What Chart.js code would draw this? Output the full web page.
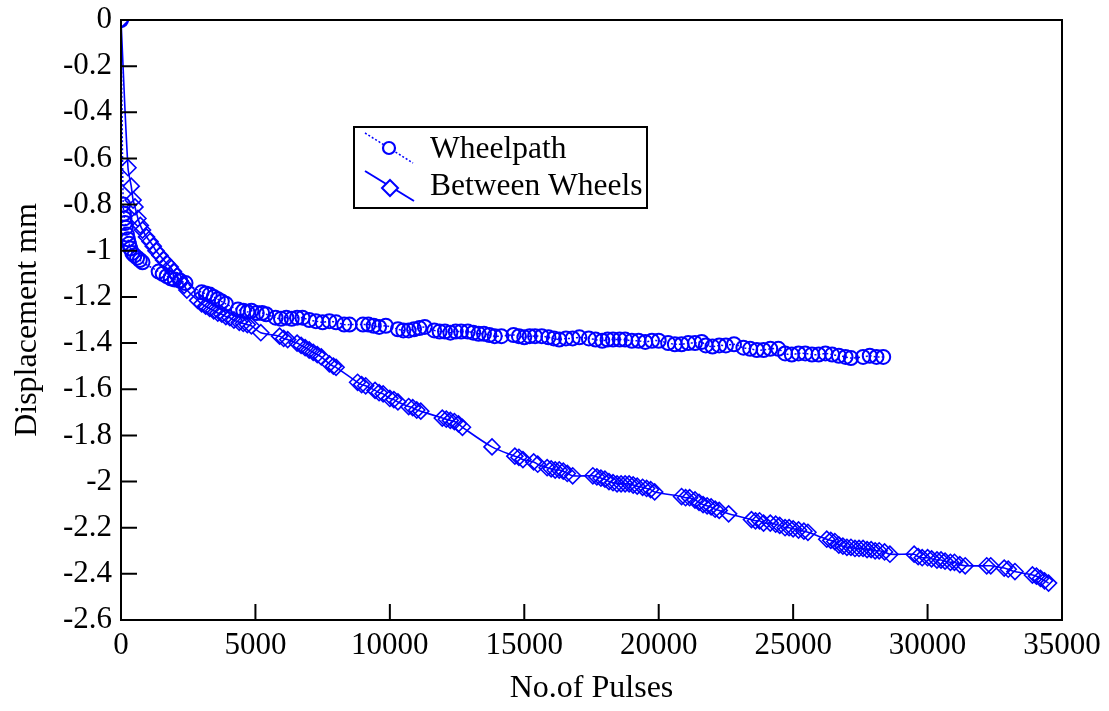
<!DOCTYPE html>
<html>
<head>
<meta charset="utf-8">
<script src="https://cdn.jsdelivr.net/npm/chart.js@4"></script>
<style>
  html, body { margin: 0; padding: 0; background: #fff; }
  #wrap { width: 1109px; height: 711px; }
</style>
</head>
<body>
<div id="wrap"><canvas id="dispChart" width="1109" height="711"></canvas></div>
<script>
// Wheelpath readings (pulses, displacement mm)
const wheelX = [0,
  80, 110, 130, 150, 180, 220, 260, 300, 350, 420, 500, 600, 700, 800,
  1400, 1550, 1700, 1850, 2000, 2200, 2400,
  3000, 3150, 3300, 3450, 3600, 3750, 3900,
  4350, 4550, 4700, 4850, 5050, 5250, 5400,
  5750, 5950, 6150, 6350, 6550, 6750,
  7000, 7250, 7500, 7750, 8000, 8300, 8500,
  9000, 9200, 9400, 9600, 9850,
  10300, 10500, 10700, 10900, 11100, 11300,
  11650, 11850, 12050, 12250, 12450, 12650, 12900,
  13100, 13300, 13500, 13700, 13900, 14150,
  14600, 14800, 15000, 15200, 15400, 15650,
  15900, 16100, 16300, 16550, 16800, 17050,
  17400, 17650, 17900, 18100, 18300, 18550,
  18750, 19000, 19250, 19500, 19750, 20000,
  20350, 20600, 20850, 21100, 21350, 21600,
  21750, 22000, 22250, 22500, 22800,
  23150, 23400, 23650, 23900, 24150, 24450,
  24700, 24950, 25200, 25450, 25700, 25950, 26200, 26450, 26700, 26950, 27150,
  27600, 27850, 28100, 28350];
const wheelY = [0,
  -0.80, -0.84, -0.86, -0.88, -0.90, -0.93, -0.95, -0.97, -0.99, -1.01, -1.02, -1.03, -1.04, -1.05,
  -1.09, -1.10, -1.11, -1.12, -1.125, -1.13, -1.14,
  -1.18, -1.185, -1.19, -1.20, -1.21, -1.22, -1.23,
  -1.255, -1.26, -1.265, -1.26, -1.27, -1.27, -1.275,
  -1.29, -1.295, -1.29, -1.295, -1.29, -1.29,
  -1.30, -1.305, -1.31, -1.305, -1.31, -1.32, -1.32,
  -1.32, -1.32, -1.325, -1.33, -1.325,
  -1.34, -1.345, -1.345, -1.34, -1.335, -1.33,
  -1.345, -1.35, -1.35, -1.355, -1.35, -1.35, -1.35,
  -1.355, -1.36, -1.36, -1.365, -1.37, -1.37,
  -1.365, -1.37, -1.375, -1.37, -1.37, -1.37,
  -1.375, -1.38, -1.385, -1.38, -1.38, -1.375,
  -1.38, -1.385, -1.39, -1.385, -1.385, -1.385,
  -1.385, -1.39, -1.39, -1.395, -1.39, -1.39,
  -1.40, -1.405, -1.405, -1.40, -1.40, -1.395,
  -1.41, -1.415, -1.41, -1.41, -1.405,
  -1.42, -1.425, -1.43, -1.43, -1.425, -1.425,
  -1.445, -1.45, -1.445, -1.445, -1.45, -1.45, -1.445, -1.45, -1.455, -1.46, -1.465,
  -1.46, -1.455, -1.46, -1.46];

// Between wheels readings
const betweenX = [0,
  260, 380, 450, 520, 630, 720, 800, 950, 1080, 1200, 1300, 1450, 1580, 1700, 1830, 1950, 2080, 2200, 2350, 2450,
  2850, 3000, 3150, 3300, 3450, 3600, 3750, 3900, 4050, 4200, 4400, 4550, 4700, 4850, 5200,
  5900, 6050, 6200, 6550, 6700, 6850, 7000, 7150, 7300, 7450, 7750, 7900, 8000,
  8800, 8950, 9100, 9450, 9600, 9750, 10000, 10150, 10300, 10700, 10850, 11000, 11150,
  11950, 12100, 12250, 12400, 12550, 12700,
  13800,
  14650, 14800, 14950, 15350, 15500,
  15850, 16000, 16150, 16300, 16450, 16600, 16800,
  17550, 17700, 17850, 18000, 18150, 18300, 18450, 18600, 18750, 18900, 19050, 19200, 19400, 19550, 19700, 19850,
  20850, 21000, 21150, 21350, 21500, 21650, 21800, 21950, 22100, 22250, 22600,
  23450, 23600, 23750, 23900, 24150, 24350, 24500, 24700, 24850, 25000, 25200, 25400, 25550,
  26250, 26400, 26550, 26700, 26850, 27000, 27150, 27300, 27450, 27600, 27750, 27900, 28050, 28200, 28400, 28600,
  29500, 29650, 29800, 30000, 30150, 30350, 30500, 30650, 30850, 31000, 31200, 31400,
  32200, 32350,
  32850, 33000, 33250,
  33900, 34050, 34200, 34350, 34500];
const betweenY = [0,
  -0.64, -0.72, -0.78, -0.81, -0.86, -0.89, -0.91, -0.94, -0.96, -0.98, -1.00, -1.02, -1.04, -1.055, -1.07, -1.09, -1.11, -1.13, -1.15, -1.17,
  -1.215, -1.23, -1.24, -1.25, -1.26, -1.27, -1.275, -1.285, -1.29, -1.30, -1.31, -1.315, -1.32, -1.325, -1.355,
  -1.37, -1.38, -1.385, -1.40, -1.41, -1.42, -1.43, -1.44, -1.45, -1.46, -1.49, -1.50, -1.505,
  -1.57, -1.58, -1.585, -1.605, -1.615, -1.62, -1.64, -1.645, -1.655, -1.675, -1.68, -1.69, -1.695,
  -1.725, -1.73, -1.735, -1.74, -1.75, -1.765,
  -1.85,
  -1.89, -1.895, -1.905, -1.915, -1.925,
  -1.94, -1.945, -1.95, -1.95, -1.955, -1.965, -1.975,
  -1.975, -1.98, -1.985, -1.99, -2.00, -2.005, -2.01, -2.01, -2.01, -2.01, -2.015, -2.02, -2.025, -2.03, -2.035, -2.045,
  -2.065, -2.07, -2.07, -2.08, -2.09, -2.10, -2.105, -2.11, -2.12, -2.125, -2.14,
  -2.165, -2.17, -2.17, -2.18, -2.18, -2.185, -2.19, -2.20, -2.20, -2.205, -2.21, -2.215, -2.22,
  -2.25, -2.255, -2.26, -2.275, -2.28, -2.285, -2.285, -2.29, -2.29, -2.29, -2.295, -2.295, -2.30, -2.30, -2.305, -2.315,
  -2.315, -2.325, -2.33, -2.33, -2.335, -2.34, -2.34, -2.345, -2.35, -2.35, -2.36, -2.365,
  -2.365, -2.365,
  -2.375, -2.38, -2.39,
  -2.405, -2.41, -2.42, -2.43, -2.44];

const seriesNames = ['Wheelpath', 'Between Wheels'];
const xTitle = 'No.of Pulses';
const yTitle = 'Displacement mm';

const serif = "'Liberation Serif', 'Times New Roman', serif";
const blue = '#0000ff';

function toPoints(xs, ys) {
  return xs.map((x, i) => ({ x: x, y: ys[i] }));
}

// frame with inward ticks, plus the boxed legend
const framePlugin = {
  id: 'frame',
  afterDraw(chart) {
    const c = chart.ctx;
    const a = chart.chartArea;
    const xs = chart.scales.x, ys = chart.scales.y;
    c.save();
    c.strokeStyle = '#000';
    c.lineWidth = 2;
    c.strokeRect(a.left, a.top, a.right - a.left, a.bottom - a.top);
    c.beginPath();
    xs.ticks.forEach(t => {
      const px = xs.getPixelForValue(t.value);
      c.moveTo(px, a.bottom);
      c.lineTo(px, a.bottom - 16);
    });
    ys.ticks.forEach(t => {
      const py = ys.getPixelForValue(t.value);
      c.moveTo(a.left, py);
      c.lineTo(a.left + 16, py);
    });
    c.stroke();

    // legend
    const L = 354, T = 127, W = 293, H = 81;
    c.fillStyle = '#fff';
    c.fillRect(L, T, W, H);
    c.lineWidth = 2;
    c.strokeRect(L, T, W, H);
    c.strokeStyle = blue;
    c.lineWidth = 1.5;
    c.setLineDash([2, 2]);
    c.beginPath();
    c.moveTo(L + 11, T + 6);
    c.lineTo(L + 59, T + 36);
    c.stroke();
    c.setLineDash([]);
    c.fillStyle = '#fff';
    c.beginPath();
    c.arc(L + 35, T + 21, 6, 0, Math.PI * 2);
    c.fill();
    c.lineWidth = 2.2;
    c.stroke();
    c.lineWidth = 2;
    c.beginPath();
    c.moveTo(L + 11, T + 44);
    c.lineTo(L + 60, T + 74);
    c.stroke();
    c.beginPath();
    c.moveTo(L + 36, T + 53);
    c.lineTo(L + 44, T + 61);
    c.lineTo(L + 36, T + 69);
    c.lineTo(L + 28, T + 61);
    c.closePath();
    c.fill();
    c.stroke();
    c.fillStyle = '#000';
    c.font = '31.5px ' + serif;
    c.textBaseline = 'middle';
    c.textAlign = 'left';
    c.fillText(seriesNames[0], L + 76, T + 23);
    c.fillText(seriesNames[1], L + 76, T + 60);
    c.restore();
  }
};

const ctx = document.getElementById('dispChart').getContext('2d');

new Chart(ctx, {
  type: 'line',
  data: {
    datasets: [
      {
        label: seriesNames[0],
        data: toPoints(wheelX, wheelY),
        borderColor: blue,
        borderWidth: 1.5,
        borderDash: [2, 2],
        tension: 0.3,
        fill: false,
        pointStyle: 'circle',
        pointRadius: 7,
        pointBorderWidth: 2,
        pointBorderColor: blue,
        pointBackgroundColor: 'rgba(255,255,255,0)'
      },
      {
        label: seriesNames[1],
        data: toPoints(betweenX, betweenY),
        borderColor: blue,
        borderWidth: 1.6,
        tension: 0.3,
        fill: false,
        pointStyle: 'rectRot',
        pointRadius: 8,
        pointBorderWidth: 1.6,
        pointBorderColor: blue,
        pointBackgroundColor: 'rgba(255,255,255,0)'
      }
    ]
  },
  options: {
    responsive: false,
    animation: false,
    devicePixelRatio: 1,
    layout: { padding: { top: 20, right: 47, left: 0, bottom: 0 } },
    plugins: { legend: { display: false }, tooltip: { enabled: false } },
    scales: {
      x: {
        type: 'linear',
        min: 0,
        max: 35000,
        grid: { display: false, drawTicks: false },
        border: { display: false },
        ticks: {
          stepSize: 5000,
          padding: 7,
          color: '#000',
          font: { family: serif, size: 31 },
          maxRotation: 0,
          callback: v => String(v)
        },
        title: {
          display: true,
          text: xTitle,
          color: '#000',
          font: { family: serif, size: 32 },
          padding: { top: 0, bottom: 3 }
        },
        afterFit: s => {
          s.height = 91;
          s.paddingLeft = 0;
          s.paddingRight = 0;
        }
      },
      y: {
        min: -2.6,
        max: 0,
        grid: { display: false, drawTicks: false },
        border: { display: false },
        ticks: {
          stepSize: 0.2,
          padding: 9,
          color: '#000',
          font: { family: serif, size: 31 },
          callback: v => String(Number(v.toFixed(1)) || 0)
        },
        title: {
          display: true,
          text: yTitle,
          color: '#000',
          font: { family: serif, size: 32 },
          padding: { top: 8, bottom: 0 }
        },
        afterFit: s => {
          s.width = 121;
          s.paddingTop = 0;
          s.paddingBottom = 0;
        }
      }
    }
  },
  plugins: [framePlugin]
});
</script>
</body>
</html>
